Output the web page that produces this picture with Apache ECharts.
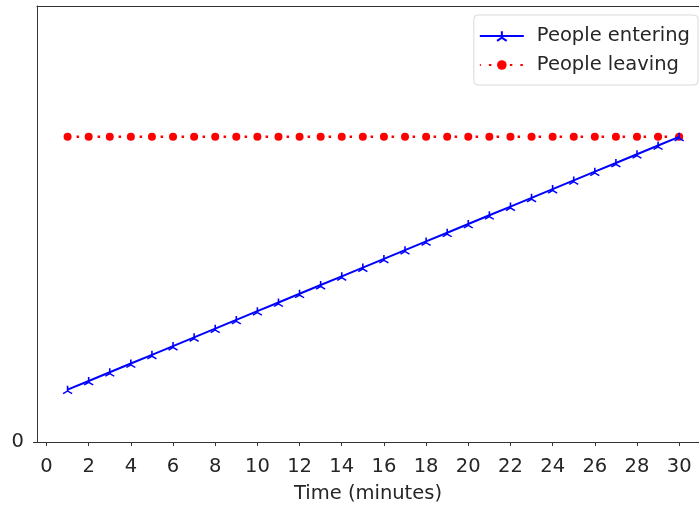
<!DOCTYPE html>
<html>
<head>
<meta charset="utf-8">
<script src="https://cdn.jsdelivr.net/npm/echarts@6/dist/echarts.min.js"></script>
<style>html,body{margin:0;padding:0;background:#fff}#c{width:699px;height:510px}</style>
</head>
<body>
<div id="c"></div>
<script>
var minutes = [1,2,3,4,5,6,7,8,9,10,11,12,13,14,15,16,17,18,19,20,21,22,23,24,25,26,27,28,29,30];
var peopleEntering = [6,7,8,9,10,11,12,13,14,15,16,17,18,19,20,21,22,23,24,25,26,27,28,29,30,31,32,33,34,35];
var peopleLeaving = [35,35,35,35,35,35,35,35,35,35,35,35,35,35,35,35,35,35,35,35,35,35,35,35,35,35,35,35,35,35];
var xTicks = [0,2,4,6,8,10,12,14,16,18,20,22,24,26,28,30];
var yTicks = [0];

function pairs(xs, ys){ return xs.map(function(x,i){ return [x, ys[i]]; }); }

var font = 'DejaVu Sans';
var fs = 19.5;
var chart = echarts.init(document.getElementById('c'));
chart.setOption({
  animation: false,
  backgroundColor: '#fff',
  grid: { left: 37, right: 0, top: 6, bottom: 68, show: false },
  legend: {
    orient: 'vertical', right: 1, top: 15,
    padding: [11, 8, 10, 5], itemGap: 9,
    itemWidth: 44, itemHeight: 12,
    borderColor: '#d9d9d9', borderWidth: 1, borderRadius: 4,
    backgroundColor: 'rgba(255,255,255,0.8)',
    textStyle: { fontFamily: font, fontSize: fs, color: '#262626', padding: [0,0,0,8] },
    data: ['People entering', 'People leaving']
  },
  xAxis: [{
    type: 'value', min: -0.45, max: 30.94,
    name: 'Time (minutes)', nameLocation: 'middle', nameGap: 42,
    nameTextStyle: { fontFamily: font, fontSize: fs, color: '#262626' },
    axisLine: { show: true, onZero: false, lineStyle: { color: '#333', width: 1 } },
    axisTick: { show: true, length: 4, customValues: xTicks, lineStyle: { color: '#333' } },
    axisLabel: { customValues: xTicks, fontFamily: font, fontSize: fs, color: '#262626', margin: 15 },
    splitLine: { show: false }
  }, {
    type: 'value', position: 'top', min: -0.45, max: 30.94,
    axisLine: { show: true, onZero: false, lineStyle: { color: '#333', width: 1 } },
    axisTick: { show: false }, axisLabel: { show: false }, splitLine: { show: false }
  }],
  yAxis: {
    type: 'value', min: 0, max: 50,
    axisLine: { show: true, onZero: false, lineStyle: { color: '#333', width: 1 } },
    axisTick: { show: true, length: 4, customValues: yTicks, lineStyle: { color: '#333' } },
    axisLabel: { customValues: yTicks, fontFamily: font, fontSize: fs, color: '#262626', margin: 13 },
    splitLine: { show: false }
  },
  series: [
    {
      name: 'People entering', type: 'line',
      data: pairs(minutes, peopleEntering),
      symbol: 'path://M0,0 L0,-10 M0,0 L-8.66,5 M0,0 L8.66,5',
      symbolSize: [9, 8],
      showAllSymbol: true,
      itemStyle: { color: '#0000ff', borderColor: '#0000ff', borderWidth: 1.5 },
      lineStyle: { color: '#0000ff', width: 2 },
      z: 3
    },
    {
      name: 'People leaving', type: 'line',
      data: pairs(minutes, peopleLeaving),
      symbol: 'circle', symbolSize: 8,
      showAllSymbol: true,
      itemStyle: { color: '#ff0000', borderWidth: 0 },
      lineStyle: { color: '#ff0000', width: 2.5, type: [2.5, 8], dashOffset: -9 },
      z: 2
    }
  ]
});
</script>
</body>
</html>
